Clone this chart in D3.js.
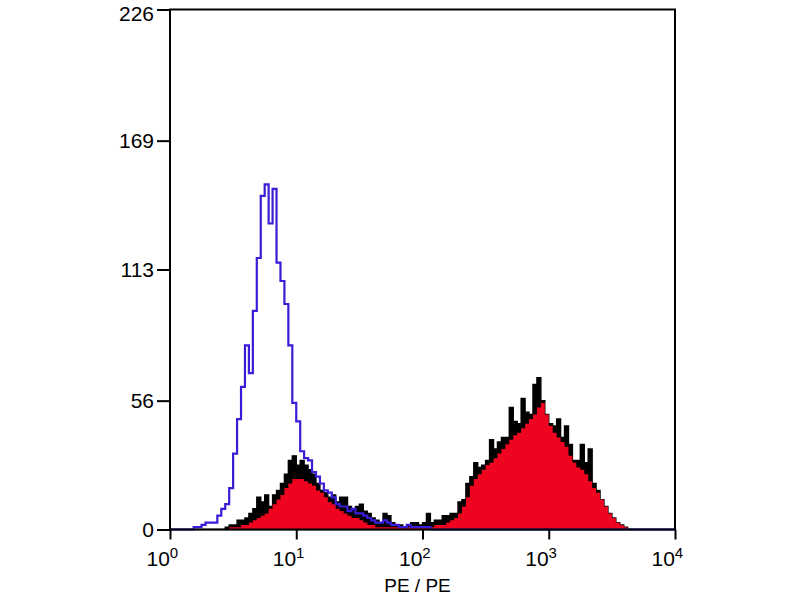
<!DOCTYPE html>
<html>
<head>
<meta charset="utf-8">
<style>
	body { margin: 0; background: #fff; }
	svg { display: block; }
	text { font-family: "Liberation Sans", Arial, sans-serif; fill: #000; }
</style>
</head>
<body>
<script src="https://d3js.org/d3.v7.min.js"></script>
<script>
// histogram channels: 128 bins, 32 per decade, 10^0 .. 10^4
var channelsPerDecade = 32;

// control (blue outline)
var blueCounts = [
	0,0,0,0,0,0,1,1,2,3,3,3,6,9,11,18,
	33,48,62,80,68,95,118,145,150,133,148,116,108,98,80,55,
	47,34,31,30,25,23,20,17,16,14,11,10,10,8,9,7,
	7,6,5,4,3,3,4,3,2,2,1,1,2,1,1,1,
	1,1,0,0,0,0,0,0,0,0,0,0,0,0,0,0,
	0,0,0,0,0,0,0,0,0,0,0,0,0,0,0,0,
	0,0,0,0,0,0,0,0,0,0,0,0,0,0,0,0,
	0,0,0,0,0,0,0,0,0,0,0,0,0,0,0,0
];

// stained sample, raw counts (black edge)
var blackCounts = [
	0,0,0,0,0,0,0,0,0,0,0,0,0,0,1,2,
	2,4,4,5,7,9,14,12,15,10,15,17,20,24,30,32,
	28,30,28,26,24,20,17,16,14,15,12,14,14,10,9,10,
	11,8,7,5,4,3,7,6,3,2,2,1,2,3,3,2,
	3,7,3,4,4,6,6,7,7,12,13,20,23,29,27,28,
	30,39,35,38,40,40,53,47,46,57,51,50,63,66,56,50,
	46,45,48,40,45,37,30,30,37,29,35,20,17,13,10,7,
	5,3,2,1,0,0,0,0,0,0,0,0,0,0,0,0
];

// stained sample, red fill
var redCounts = [
	0,0,0,0,0,0,0,0,0,0,0,0,0,0,0,1,
	1,1,2,2,3,4,5,6,7,9,11,13,15,18,20,22,
	22,22,21,20,19,17,16,14,12,11,9,8,7,6,5,5,
	4,3,2,2,1,1,1,1,1,1,1,1,1,1,1,1,
	1,1,1,2,2,2,3,4,5,7,10,14,19,22,24,26,
	28,29,31,33,35,37,39,41,42,44,46,48,50,53,55,50,
	45,42,40,38,36,32,29,27,26,24,21,18,16,13,10,7,
	5,3,2,1,0,0,0,0,0,0,0,0,0,0,0,0
];

var yTicks = [0, 56, 113, 169, 226];
var xTicks = [1, 10, 100, 1000, 10000];
var xTitle = "PE / PE";

var width = 800, height = 600;
var margin = {top: 9.5, right: 125, bottom: 70.5, left: 170};
var w = width - margin.left - margin.right;
var h = height - margin.top - margin.bottom;

var svg = d3.select("body").append("svg")
	.attr("width", width)
	.attr("height", height);

var g = svg.append("g")
	.attr("transform", "translate(" + margin.left + "," + margin.top + ")");

var x = d3.scaleLog().domain([1, 10000]).range([0, w]);
var y = d3.scaleLinear().domain([0, 226]).range([h, 0]);

// turn a count array into step points at the channel edges
function steps(counts) {
	var pts = counts.map(function(c, i) {
		return {v: Math.pow(10, i / channelsPerDecade), c: c};
	});
	pts.push({v: Math.pow(10, counts.length / channelsPerDecade), c: counts[counts.length - 1]});
	return pts;
}

var area = d3.area()
	.curve(d3.curveStepAfter)
	.x(function(d) { return x(d.v); })
	.y0(h)
	.y1(function(d) { return y(d.c); });

var line = d3.line()
	.curve(d3.curveStepAfter)
	.x(function(d) { return x(d.v); })
	.y(function(d) { return y(d.c); });

g.append("path")
	.datum(steps(blackCounts))
	.attr("d", area)
	.attr("fill", "#000")
	.attr("stroke", "#000")
	.attr("stroke-width", 1.4);

g.append("path")
	.datum(steps(redCounts))
	.attr("d", area)
	.attr("fill", "#ef0420");

g.append("path")
	.datum(steps(blueCounts))
	.attr("d", line)
	.attr("fill", "none")
	.attr("stroke", "#3a1bd6")
	.attr("stroke-width", 2.2);

// axes
var yAxis = d3.axisLeft(y)
	.tickValues(yTicks)
	.tickSize(13)
	.tickPadding(3)
	.tickFormat(d3.format("d"));

var gy = g.append("g").call(yAxis);
gy.select(".domain").remove();
gy.selectAll("line").attr("stroke", "#000").attr("stroke-width", 2);
gy.selectAll("text")
	.attr("font-size", 21)
	.attr("font-family", "Liberation Sans, Arial, sans-serif")
	.attr("dy", function(d) { return d === 226 ? "0.5em" : "0.32em"; });

var xAxis = d3.axisBottom(x)
	.tickValues(xTicks)
	.tickSize(10)
	.tickPadding(12)
	.tickFormat(function() { return ""; });

var gx = g.append("g")
	.attr("transform", "translate(0," + h + ")")
	.call(xAxis);
gx.select(".domain").remove();
gx.selectAll("line").attr("stroke", "#000").attr("stroke-width", 2);
gx.selectAll("text").each(function(d) {
	var t = d3.select(this)
		.attr("font-size", 21)
		.attr("font-family", "Liberation Sans, Arial, sans-serif")
		.attr("text-anchor", "start")
		.attr("x", -24);
	t.text("10");
	t.append("tspan")
		.attr("dy", -8)
		.attr("font-size", 15)
		.text(Math.round(Math.log10(d)));
});

// frame
g.append("rect")
	.attr("x", 0)
	.attr("y", 0)
	.attr("width", w)
	.attr("height", h)
	.attr("fill", "none")
	.attr("stroke", "#000")
	.attr("stroke-width", 2);

svg.append("text")
	.attr("x", margin.left + w / 2 - 5)
	.attr("y", 592)
	.attr("text-anchor", "middle")
	.attr("font-size", 19)
	.text(xTitle);
</script>
</body>
</html>
